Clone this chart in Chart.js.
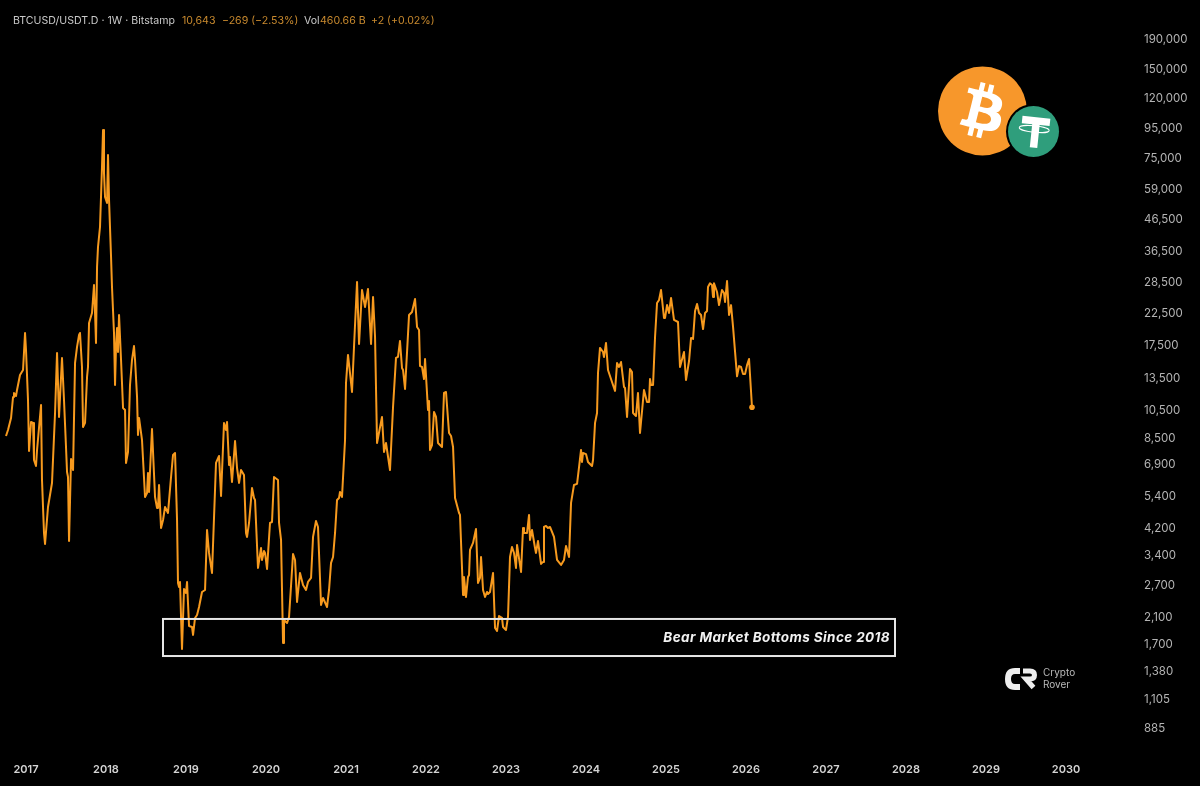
<!DOCTYPE html>
<html>
<head>
<meta charset="utf-8">
<title>BTCUSD/USDT.D</title>
<script src="https://cdn.jsdelivr.net/npm/chart.js@4/dist/chart.umd.min.js"></script>
<style>
  html, body { margin: 0; padding: 0; background: #000; width: 1200px; height: 786px; overflow: hidden; }
  #wrap { position: relative; width: 1200px; height: 786px; font-family: Inter, sans-serif; }
  canvas { position: absolute; left: 0; top: 0; }
  .hdr { position: absolute; top: 14px; font-size: 10.6px; line-height: 14px; white-space: nowrap; }
  .grey { color: #c9c9c9; }
  .orange { color: #c98a2e; }
  svg { position: absolute; left: 0; top: 0; }
  .rover { position: absolute; left: 1043px; font-size: 10px; line-height: 11px; color: #b9b9b9; }
</style>
</head>
<body>
<div id="wrap">
  <canvas id="chart" width="1200" height="786"></canvas>
  <span class="hdr grey" style="left:13px">BTCUSD/USDT.D · 1W · Bitstamp</span>
  <span class="hdr orange" style="left:182px">10,643</span>
  <span class="hdr orange" style="left:222px">−269 (−2.53%)</span>
  <span class="hdr grey" style="left:304px">Vol</span>
  <span class="hdr orange" style="left:320px">460.66 B</span>
  <span class="hdr orange" style="left:371px">+2 (+0.02%)</span>

  <svg width="1200" height="786">
    <g transform="translate(938 66.5) scale(1.39)">
      <circle cx="32" cy="32" r="32" fill="#f7972b"/>
      <path fill="#fff" fill-rule="evenodd" d="M46.103,27.444c0.637-4.258-2.605-6.547-7.038-8.074l1.438-5.768l-3.511-0.875l-1.4,5.616c-0.923-0.23-1.871-0.447-2.813-0.662l1.41-5.653l-3.509-0.875l-1.439,5.766c-0.764-0.174-1.514-0.346-2.242-0.527l0.004-0.018l-4.842-1.209l-0.934,3.75c0,0,2.605,0.597,2.55,0.634c1.422,0.355,1.679,1.296,1.636,2.042l-1.638,6.571c0.098,0.025,0.225,0.061,0.365,0.117c-0.117-0.029-0.242-0.061-0.371-0.092l-2.296,9.205c-0.174,0.432-0.615,1.08-1.609,0.834c0.035,0.051-2.552-0.637-2.552-0.637l-1.743,4.019l4.569,1.139c0.85,0.213,1.683,0.436,2.503,0.646l-1.453,5.834l3.507,0.875l1.439-5.772c0.958,0.26,1.888,0.5,2.798,0.726l-1.434,5.745l3.511,0.875l1.453-5.823c5.987,1.133,10.489,0.676,12.384-4.739c1.527-4.36-0.076-6.875-3.226-8.515C44.083,33.389,45.642,30.561,46.103,27.444z M38.08,38.693c-1.085,4.36-8.426,2.003-10.806,1.412l1.928-7.729C31.582,32.97,39.216,34.147,38.08,38.693z M39.166,27.381c-0.99,3.966-7.1,1.951-9.082,1.457l1.748-7.01C33.814,22.322,40.2,23.243,39.166,27.381z"/>
    </g>
    <circle cx="1033.5" cy="131.5" r="27.5" fill="#000"/>
    <circle cx="1033.5" cy="131.5" r="25.5" fill="#2f9e7c"/>
    <g transform="rotate(6 1034 131)">
      <path fill="#fff" d="M1021 117h28v7.5h-10v23h-7.5v-23h-10.500z"/>
      <ellipse cx="1034" cy="129" rx="15" ry="3.200" fill="none" stroke="#fff" stroke-width="1"/>
    </g>
    <g fill="none" stroke="#eee">
      <path stroke-width="6" d="M1020 671h-5q-7 0-7 8t7 8h5"/>
      <path stroke-width="5" d="M1023 671h7q4.500 0 4.500 4t-4.500 4h-4l7.500 8.500"/>
    </g>
  </svg>
  <span class="rover" style="top:667px">Crypto</span>
  <span class="rover" style="top:679px">Rover</span>
</div>

<script>
// weekly closes, time as decimal year
const dates = [
  2016.750, 2016.775, 2016.813, 2016.838, 2016.850, 2016.875, 2016.888, 2016.925, 2016.963, 2016.988,
  2017.000, 2017.025, 2017.038, 2017.063, 2017.088, 2017.100, 2017.125, 2017.138, 2017.188, 2017.200,
  2017.225, 2017.238, 2017.275, 2017.325, 2017.363, 2017.388, 2017.413, 2017.450, 2017.475, 2017.500,
  2017.513, 2017.525, 2017.538, 2017.563, 2017.588, 2017.613, 2017.638, 2017.663, 2017.675, 2017.700,
  2017.713, 2017.738, 2017.763, 2017.775, 2017.788, 2017.825, 2017.850, 2017.863, 2017.875, 2017.888,
  2017.900, 2017.925, 2017.950, 2017.963, 2017.975, 2017.988,
  2018.013, 2018.025, 2018.038, 2018.063, 2018.075, 2018.100, 2018.113, 2018.125, 2018.138, 2018.150,
  2018.163, 2018.188, 2018.213, 2018.238, 2018.250, 2018.275, 2018.300, 2018.325, 2018.350, 2018.363,
  2018.388, 2018.400, 2018.413, 2018.450, 2018.488, 2018.513, 2018.525, 2018.538, 2018.575, 2018.613,
  2018.638, 2018.650, 2018.663, 2018.688, 2018.713, 2018.738, 2018.775, 2018.813, 2018.838, 2018.863,
  2018.888, 2018.900, 2018.913, 2018.925, 2018.950, 2018.975,
  2019.000, 2019.013, 2019.038, 2019.075, 2019.088, 2019.113, 2019.138, 2019.163, 2019.200, 2019.238,
  2019.263, 2019.288, 2019.325, 2019.375, 2019.413, 2019.438, 2019.475, 2019.500, 2019.513, 2019.538,
  2019.550, 2019.575, 2019.613, 2019.638, 2019.663, 2019.688, 2019.725, 2019.750, 2019.763, 2019.788,
  2019.825, 2019.850, 2019.863, 2019.900, 2019.938, 2019.950, 2019.975, 2019.988,
  2020.013, 2020.050, 2020.075, 2020.100, 2020.150, 2020.163, 2020.188, 2020.213, 2020.225, 2020.263,
  2020.288, 2020.338, 2020.363, 2020.388, 2020.425, 2020.463, 2020.500, 2020.525, 2020.563, 2020.588,
  2020.625, 2020.650, 2020.688, 2020.713, 2020.763, 2020.788, 2020.813, 2020.838, 2020.863, 2020.888,
  2020.913, 2020.925, 2020.950, 2020.988,
  2021.000, 2021.025, 2021.050, 2021.075, 2021.100, 2021.138, 2021.163, 2021.200, 2021.238, 2021.275,
  2021.313, 2021.338, 2021.363, 2021.388, 2021.450, 2021.475, 2021.500, 2021.550, 2021.588, 2021.625,
  2021.650, 2021.675, 2021.700, 2021.713, 2021.738, 2021.788, 2021.825, 2021.863, 2021.888, 2021.913,
  2021.925, 2021.950, 2021.975, 2021.988,
  2022.025, 2022.038, 2022.050, 2022.075, 2022.100, 2022.125, 2022.150, 2022.200, 2022.225, 2022.250,
  2022.288, 2022.313, 2022.338, 2022.363, 2022.413, 2022.425, 2022.463, 2022.475, 2022.500, 2022.525,
  2022.538, 2022.550, 2022.588, 2022.600, 2022.625, 2022.650, 2022.675, 2022.688, 2022.713, 2022.738,
  2022.763, 2022.775, 2022.800, 2022.838, 2022.863, 2022.888, 2022.913, 2022.950, 2022.963,
  2023.000, 2023.025, 2023.050, 2023.075, 2023.100, 2023.125, 2023.138, 2023.188, 2023.213, 2023.225,
  2023.263, 2023.288, 2023.300, 2023.325, 2023.363, 2023.375, 2023.400, 2023.438, 2023.463, 2023.475,
  2023.500, 2023.525, 2023.550, 2023.600, 2023.638, 2023.688, 2023.725, 2023.750, 2023.788, 2023.813,
  2023.850, 2023.888, 2023.913, 2023.938, 2023.950, 2023.963,
  2024.000, 2024.025, 2024.075, 2024.088, 2024.113, 2024.138, 2024.150, 2024.175, 2024.213, 2024.225,
  2024.250, 2024.275, 2024.325, 2024.363, 2024.388, 2024.413, 2024.438, 2024.475, 2024.488, 2024.513,
  2024.550, 2024.575, 2024.588, 2024.625, 2024.650, 2024.675, 2024.725, 2024.763, 2024.788, 2024.800,
  2024.813, 2024.838, 2024.863, 2024.888, 2024.913, 2024.938, 2024.975, 2024.988,
  2025.013, 2025.038, 2025.063, 2025.100, 2025.150, 2025.175, 2025.225, 2025.250, 2025.288, 2025.313,
  2025.338, 2025.363, 2025.388, 2025.413, 2025.438, 2025.463, 2025.488, 2025.513, 2025.525, 2025.550,
  2025.575, 2025.588, 2025.600, 2025.638, 2025.663, 2025.700, 2025.725, 2025.738, 2025.763, 2025.788,
  2025.813, 2025.838, 2025.888, 2025.913, 2025.938, 2025.963, 2025.988,
  2026.013, 2026.038, 2026.075
];
const closes = [
  8510, 8915, 9790, 11530, 11900, 11620, 12180, 13690, 14230, 18980,
  16630, 11260, 7570, 9490, 9420, 7057, 6735, 7629, 10830, 6039,
  3997, 3667, 4893, 5900, 10180, 16250, 9870, 15630, 11260, 7810,
  6427, 6180, 3755, 7110, 6528, 15030, 17030, 18690, 18980, 14570,
  9130, 9420, 13480, 14570, 20520, 22190, 27600, 22190, 17570, 31750,
  37100, 43360, 69200, 92360, 66060, 54780,
  52290, 76000, 53520, 34330, 27170, 18980, 12660, 17030, 19740, 16370,
  21840, 15380, 10580, 10420, 6895, 7510, 12660, 15380, 17150, 15380,
  11530, 8575, 9790, 8247, 5290, 5458, 6378, 5500, 8985, 5290,
  4856, 4856, 5810, 4155, 4422, 4893, 4671, 6180, 7340, 7454,
  4422, 2708, 2624, 2728, 1619, 2583,
  2504, 2728, 1936, 1921, 1805, 2061, 2110, 2245, 2523, 2563,
  4091, 3420, 2927, 6895, 7280, 5330, 9420, 8915, 9490, 6790,
  7224, 5945, 8183, 6630, 5900, 6528, 6280, 3997, 3875, 4320,
  5675, 5250, 5168, 3043, 3555, 3238, 3474, 3420,
  3020, 4320, 4353, 6180, 6039, 4320, 3784, 1697, 2029, 1982,
  2077, 3393, 3238, 2334, 2927, 2666, 2563, 2728, 2815, 3875,
  4388, 4187, 2281, 2408, 2245, 2563, 3164, 3315, 3997, 5168,
  5250, 5500, 5290, 8247,
  12860, 16000, 13900, 11990, 17030, 28250, 17430, 26540, 23250, 26750,
  17430, 25130, 18400, 8057, 9870, 7510, 8057, 6528, 10660, 15630,
  15750, 17840, 14450, 14230, 12280, 21840, 22360, 24740, 19900, 19430,
  14670, 14570, 13260, 15500,
  10420, 11170, 7629, 7930, 10260, 9870, 8057, 7810, 11900, 11990,
  8710, 8507, 7810, 5250, 4671, 4600, 2466, 2837, 2427, 2837,
  2880, 3501, 3697, 3697, 4122, 2708, 2815, 3315, 2563, 2427,
  2523, 2484, 2523, 2927, 1906, 1862, 2093, 2061, 1921,
  1877, 2077, 3315, 3583, 3420, 3043, 3640, 2950, 4155, 3997,
  3997, 4600, 3784, 4091, 3555, 3420, 3755, 3140, 3190, 4187,
  4220, 4155, 4187, 3875, 3238, 3115, 3238, 3610, 3315, 5050,
  5810, 5860, 6680, 7629, 6950, 7454,
  7390, 6950, 6735, 7057, 9420, 10180, 13900, 16900, 16370, 15750,
  17570, 14230, 12960, 12090, 15030, 14570, 15140, 12470, 12370, 9870,
  14340, 14010, 10180, 9940, 11900, 8710, 12180, 11090, 11090, 13260,
  12660, 12660, 18400, 23980, 24550, 26540, 21350, 21350,
  23590, 22190, 24940, 21010, 20680, 14570, 16370, 13160, 15260, 18260,
  18120, 22530, 23790, 22190, 21840, 19580, 22190, 22530, 27170, 27950,
  27600, 25130, 27950, 26130, 23590, 26540, 25930, 24170, 28470, 21840,
  23590, 19900, 13540, 14670, 14570, 13780, 13780,
  14780, 15500, 10643
];
const yearTicks = [2017, 2018, 2019, 2020, 2021, 2022, 2023, 2024, 2025, 2026, 2027, 2028, 2029, 2030];
const priceTicks = [190000, 150000, 120000, 95000, 75000, 59000, 46500, 36500, 28500, 22500, 17500, 13500,
  10500, 8500, 6900, 5400, 4200, 3400, 2700, 2100, 1700, 1380, 1105, 885];

// bear market band, start/end year and low/high price
const bandYears = [2018.7125, 2027.8625];
const bandPrices = [1532, 2045];
const bandLabel = 'Bear Market Bottoms Since 2018';

const orange = '#f79a1e';

const bandPlugin = {
  id: 'bearBand',
  afterDatasetsDraw(chart) {
    const { ctx, scales: { x, y } } = chart;
    const left = x.getPixelForValue(bandYears[0]);
    const right = x.getPixelForValue(bandYears[1]);
    const top = y.getPixelForValue(bandPrices[1]);
    const bottom = y.getPixelForValue(bandPrices[0]);
    ctx.save();
    ctx.strokeStyle = '#e6e6e6';
    ctx.lineWidth = 2;
    ctx.strokeRect(left, top, right - left, bottom - top);
    ctx.fillStyle = '#f2f2f2';
    ctx.font = 'italic 700 13.5px Inter, sans-serif';
    ctx.letterSpacing = '0.4px';
    ctx.textAlign = 'right';
    ctx.textBaseline = 'middle';
    ctx.fillText(bandLabel, right - 5, (top + bottom) / 2 + 0.5);
    ctx.restore();
  }
};

new Chart(document.getElementById('chart'), {
  type: 'line',
  data: {
    datasets: [{
      data: dates.map((d, i) => ({ x: d, y: closes[i] })),
      borderColor: orange,
      backgroundColor: orange,
      borderWidth: 2,
      tension: 0,
      borderJoinStyle: 'round',
      pointBorderWidth: 0,
      pointRadius: ctx => (ctx.dataIndex === dates.length - 1 ? 2.8 : 0)
    }]
  },
  options: {
    responsive: false,
    animation: false,
    events: [],
    layout: { padding: 0, autoPadding: false },
    plugins: { legend: { display: false }, tooltip: { enabled: false }, title: { display: false } },
    scales: {
      x: {
        type: 'linear',
        min: 2016.675,
        max: 2030.8,
        grid: { display: false },
        border: { display: false },
        afterBuildTicks: axis => { axis.ticks = yearTicks.map(v => ({ value: v })); },
        // no extra room for the edge labels, plot fills the canvas
        afterFit: axis => { axis.height = 38; axis.paddingLeft = 0; axis.paddingRight = 0; },
        ticks: {
          autoSkip: false,
          maxRotation: 0,
          padding: 7,
          color: '#d4d4d4',
          font: { family: 'Inter', size: 11, weight: '600' },
          callback: v => String(v)
        }
      },
      y: {
        type: 'logarithmic',
        position: 'right',
        min: 748.2,
        max: 254200,
        grid: { display: false },
        border: { display: false },
        afterBuildTicks: axis => { axis.ticks = priceTicks.map(v => ({ value: v })); },
        afterFit: axis => { axis.width = 70; axis.paddingTop = 0; axis.paddingBottom = 0; },
        ticks: {
          autoSkip: false,
          padding: 6,
          labelOffset: 2,
          color: '#b4b4b4',
          font: { family: 'Inter', size: 11.5 },
          callback: v => v.toLocaleString('en-US')
        }
      }
    }
  },
  plugins: [bandPlugin]
});
</script>
</body>
</html>
